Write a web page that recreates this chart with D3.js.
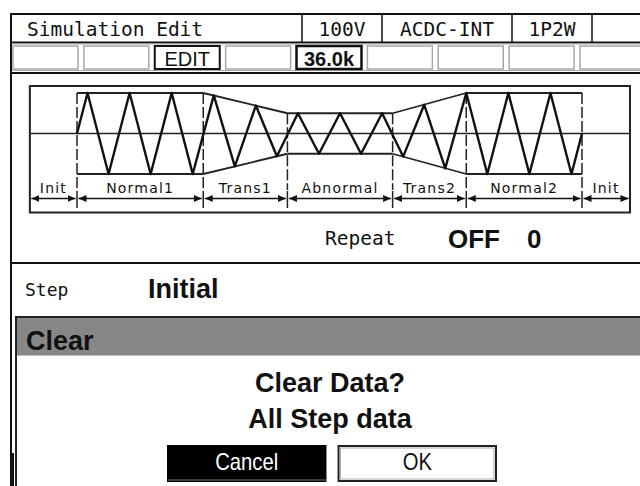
<!DOCTYPE html>
<html><head><meta charset="utf-8">
<script src="https://cdn.jsdelivr.net/npm/d3@7"></script>
<style>html,body{margin:0;padding:0;background:#fff;overflow:hidden}</style>
</head><body>
<svg id="c" width="640" height="486"></svg>
<script>
// ---------------- data ----------------
const headerLabels = ["Simulation Edit", "100V", "ACDC-INT", "1P2W", ""];
const softkeyLabels = ["", "", "EDIT", "", "36.0k", "", "", "", ""];
const softkeyActive = [false, false, true, false, true, false, false, false, false];
const segNames  = ["Init", "Normal1", "Trans1", "Abnormal", "Trans2", "Normal2", "Init"];
const segStart  = [-1.12, 0, 3, 5, 7.5, 9.25, 12];      // in waveform cycles
const segEnd    = [0, 3, 5, 7.5, 9.25, 12, 13.14];
const envStart  = [null, 1, 1, 0.5, 0.5, 1, null];       // relative amplitude
const envEnd    = [null, 1, 0.5, 0.5, 1, 1, null];
const wavePhase = [0, 0.25, 0.75, 1.25, 1.75, 2.25, 2.75, 3.25, 3.75, 4.25, 4.75,
                   5.25, 5.75, 6.25, 6.75, 7.25, 7.75, 8.25, 8.75, 9.25, 9.75,
                   10.25, 10.75, 11.25, 11.75, 12];
const waveLevel = [0, 1, -1, 1, -1, 1, -1, 0.94, -0.81, 0.69, -0.56,
                   0.5, -0.5, 0.5, -0.5, 0.5, -0.57, 0.71, -0.86, 1, -1,
                   1, -1, 1, -1, 0];
const repeatLabel = "Repeat", repeatState = "OFF", repeatCount = "0";
const stepLabel = "Step", stepValue = "Initial";
const dialogTitle = "Clear";
const dialogLines = ["Clear Data?", "All Step data"];
const buttonLabels = ["Cancel", "OK"];

// ---------------- layout ----------------
const MONO = "'DejaVu Sans Mono', monospace";
const SANS = "'Liberation Sans', Arial, sans-serif";
const SMALL = "'DejaVu Sans', sans-serif";
const HEADER_X = [12, 302, 382, 512, 592, 640];

const svg = d3.select("#c");
svg.append("rect").attr("width", 640).attr("height", 486).attr("fill", "#fff");

// outer frame
svg.append("line").attr("x1", 11).attr("x2", 11).attr("y1", 13).attr("y2", 486)
  .attr("stroke", "#111").attr("stroke-width", 2);
svg.append("rect").attr("x", 10).attr("y", 453).attr("width", 4).attr("height", 33).attr("fill", "#111");
svg.append("line").attr("x1", 10).attr("x2", 640).attr("y1", 14).attr("y2", 14)
  .attr("stroke", "#111").attr("stroke-width", 2);

// header row
const hdr = svg.append("g");
hdr.append("line").attr("x1", 12).attr("x2", 640).attr("y1", 42.5).attr("y2", 42.5)
  .attr("stroke", "#111").attr("stroke-width", 2);
HEADER_X.slice(1, -1).forEach(x => {
  hdr.append("line").attr("x1", x).attr("x2", x).attr("y1", 14).attr("y2", 43)
    .attr("stroke", "#111").attr("stroke-width", 1.5);
});
headerLabels.forEach((t, i) => {
  const x0 = HEADER_X[i], x1 = HEADER_X[i + 1];
  hdr.append("text")
    .attr("x", i === 0 ? 27 : (x0 + x1) / 2)
    .attr("y", 36)
    .attr("text-anchor", i === 0 ? "start" : "middle")
    .attr("font-family", MONO).attr("font-size", 19.5).attr("fill", "#111")
    .text(t);
});

// softkey row
const band = d3.scaleBand().domain(d3.range(softkeyLabels.length)).range([12, 646]).paddingInner(0.055);
const sk = svg.append("g");
sk.append("line").attr("x1", 12).attr("x2", 640).attr("y1", 44).attr("y2", 44).attr("stroke", "#aaa").attr("stroke-width", 1);
sk.append("line").attr("x1", 12).attr("x2", 640).attr("y1", 70.5).attr("y2", 70.5).attr("stroke", "#aaa").attr("stroke-width", 1);
sk.append("line").attr("x1", 12).attr("x2", 640).attr("y1", 73).attr("y2", 73).attr("stroke", "#111").attr("stroke-width", 2);
softkeyLabels.forEach((t, i) => {
  const x = band(i), w = band.bandwidth();
  sk.append("rect").attr("x", x + 1).attr("y", 46).attr("width", w - 2).attr("height", 23)
    .attr("fill", "#fff")
    .attr("stroke", softkeyActive[i] ? "#111" : "#a8a8a8")
    .attr("stroke-width", softkeyActive[i] ? (i === 4 ? 2.5 : 2) : 1.5);
  if (t) {
    sk.append("text").attr("x", x + w / 2).attr("y", 66)
      .attr("text-anchor", "middle").attr("font-family", SANS)
      .attr("font-size", 20).attr("font-weight", i === 4 ? "bold" : "normal")
      .attr("fill", "#111").text(t);
  }
});

// waveform diagram
const x = d3.scaleLinear().domain([0, 12]).range([77, 582]);
const y = d3.scaleLinear().domain([-1, 1]).range([174, 93]);
const wf = svg.append("g");
const bx0 = x(segStart[0]), bx1 = x(segEnd[segEnd.length - 1]);
wf.append("rect").attr("x", bx0).attr("y", 86).attr("width", bx1 - bx0).attr("height", 126.5)
  .attr("fill", "none").attr("stroke", "#222").attr("stroke-width", 2);
wf.append("line").attr("x1", bx0).attr("x2", bx1).attr("y1", y(0)).attr("y2", y(0))
  .attr("stroke", "#222").attr("stroke-width", 1.5);

// envelope
segNames.forEach((n, i) => {
  if (envStart[i] == null) return;
  [1, -1].forEach(s => {
    wf.append("line")
      .attr("x1", x(segStart[i])).attr("y1", y(s * envStart[i]))
      .attr("x2", x(segEnd[i])).attr("y2", y(s * envEnd[i]))
      .attr("stroke", "#222").attr("stroke-width", 1.8);
  });
});

// boundaries
const bounds = segStart.slice(1);
bounds.forEach((b, k) => {
  const i = k + 1;
  const amp = Math.max(envStart[i] ?? 0, envEnd[i - 1] ?? 0);
  wf.append("line").attr("x1", x(b)).attr("x2", x(b)).attr("y1", y(amp)).attr("y2", 190)
    .attr("stroke", "#222").attr("stroke-width", 1.5).attr("stroke-dasharray", "11,3");
  wf.append("line").attr("x1", x(b)).attr("x2", x(b)).attr("y1", 191).attr("y2", 208)
    .attr("stroke", "#222").attr("stroke-width", 1.5);
});

// wave
const wave = d3.line().x(d => x(d[0])).y(d => y(d[1]));
wf.append("path").attr("d", wave(wavePhase.map((p, i) => [p, waveLevel[i]])))
  .attr("fill", "none").attr("stroke", "#111").attr("stroke-width", 2.4)
  .attr("stroke-linejoin", "round");

// arrows
const defs = svg.append("defs");
defs.append("marker").attr("id", "ah").attr("viewBox", "0 0 8 8").attr("refX", 8).attr("refY", 4)
  .attr("markerWidth", 8).attr("markerHeight", 8).attr("markerUnits", "userSpaceOnUse")
  .attr("orient", "auto-start-reverse")
  .append("path").attr("d", "M0,0.5 L8,4 L0,7.5 Z").attr("fill", "#111");
segNames.forEach((n, i) => {
  wf.append("line").attr("x1", x(segStart[i]) + 1.5).attr("x2", x(segEnd[i]) - 1.5)
    .attr("y1", 198.5).attr("y2", 198.5).attr("stroke", "#111").attr("stroke-width", 1.5)
    .attr("marker-start", "url(#ah)").attr("marker-end", "url(#ah)");
  wf.append("text").attr("x", (x(segStart[i]) + x(segEnd[i])) / 2).attr("y", 193)
    .attr("text-anchor", "middle").attr("font-family", SMALL).attr("font-size", 14)
    .attr("letter-spacing", 1.2).attr("fill", "#111").text(n);
});

// repeat row
svg.append("text").attr("x", 325).attr("y", 245).attr("font-family", MONO).attr("font-size", 19.5)
  .attr("fill", "#111").text(repeatLabel);
svg.append("text").attr("x", 448).attr("y", 248).attr("font-family", SANS).attr("font-weight", "bold")
  .attr("font-size", 26).attr("fill", "#111").text(repeatState);
svg.append("text").attr("x", 527).attr("y", 248).attr("font-family", SANS).attr("font-weight", "bold")
  .attr("font-size", 26).attr("fill", "#111").text(repeatCount);
svg.append("line").attr("x1", 12).attr("x2", 640).attr("y1", 263).attr("y2", 263)
  .attr("stroke", "#111").attr("stroke-width", 2);

// step row
svg.append("text").attr("x", 25).attr("y", 296).attr("font-family", MONO).attr("font-size", 18)
  .attr("fill", "#111").text(stepLabel);
svg.append("text").attr("x", 148).attr("y", 298).attr("font-family", SANS).attr("font-weight", "bold")
  .attr("font-size", 27).attr("fill", "#111").text(stepValue);

// dialog
const dlg = svg.append("g");
dlg.append("rect").attr("x", 16).attr("y", 317).attr("width", 624).attr("height", 38).attr("fill", "#878787");
dlg.append("line").attr("x1", 15).attr("x2", 640).attr("y1", 317).attr("y2", 317).attr("stroke", "#222").attr("stroke-width", 2);
dlg.append("line").attr("x1", 16).attr("x2", 16).attr("y1", 316).attr("y2", 486).attr("stroke", "#222").attr("stroke-width", 2);
dlg.append("line").attr("x1", 17).attr("x2", 640).attr("y1", 355.5).attr("y2", 355.5).attr("stroke", "#bbb").attr("stroke-width", 1);
dlg.append("text").attr("x", 26).attr("y", 350).attr("font-family", SANS).attr("font-weight", "bold")
  .attr("font-size", 27).attr("fill", "#111").text(dialogTitle);
dialogLines.forEach((t, i) => {
  dlg.append("text").attr("x", 330).attr("y", i === 0 ? 392 : 428).attr("text-anchor", "middle")
    .attr("font-family", SANS).attr("font-weight", "bold").attr("font-size", 27)
    .attr("fill", "#111").text(t);
});
const bt = d3.scaleBand().domain(buttonLabels).range([167, 497]).paddingInner(0.065);
buttonLabels.forEach((t, i) => {
  const bx = bt(t), bw = bt.bandwidth();
  if (i === 0) {
    dlg.append("rect").attr("x", bx).attr("y", 445).attr("width", bw).attr("height", 37).attr("fill", "#000");
    dlg.append("line").attr("x1", bx + 1).attr("x2", bx + bw).attr("y1", 480).attr("y2", 480).attr("stroke", "#777").attr("stroke-width", 1);
  } else {
    dlg.append("rect").attr("x", bx + 1).attr("y", 446).attr("width", bw - 2).attr("height", 35)
      .attr("fill", "#fff").attr("stroke", "#222").attr("stroke-width", 2);
    dlg.append("rect").attr("x", bx + 3).attr("y", 448).attr("width", bw - 6).attr("height", 31)
      .attr("fill", "none").attr("stroke", "#aaa").attr("stroke-width", 1);
  }
  dlg.append("g").attr("transform", `translate(${bx + bw / 2},470) scale(0.88,1)`)
    .append("text").attr("text-anchor", "middle").attr("font-family", SANS).attr("font-size", 23)
    .attr("fill", i === 0 ? "#fff" : "#111").text(t);
});
</script>
</body></html>
